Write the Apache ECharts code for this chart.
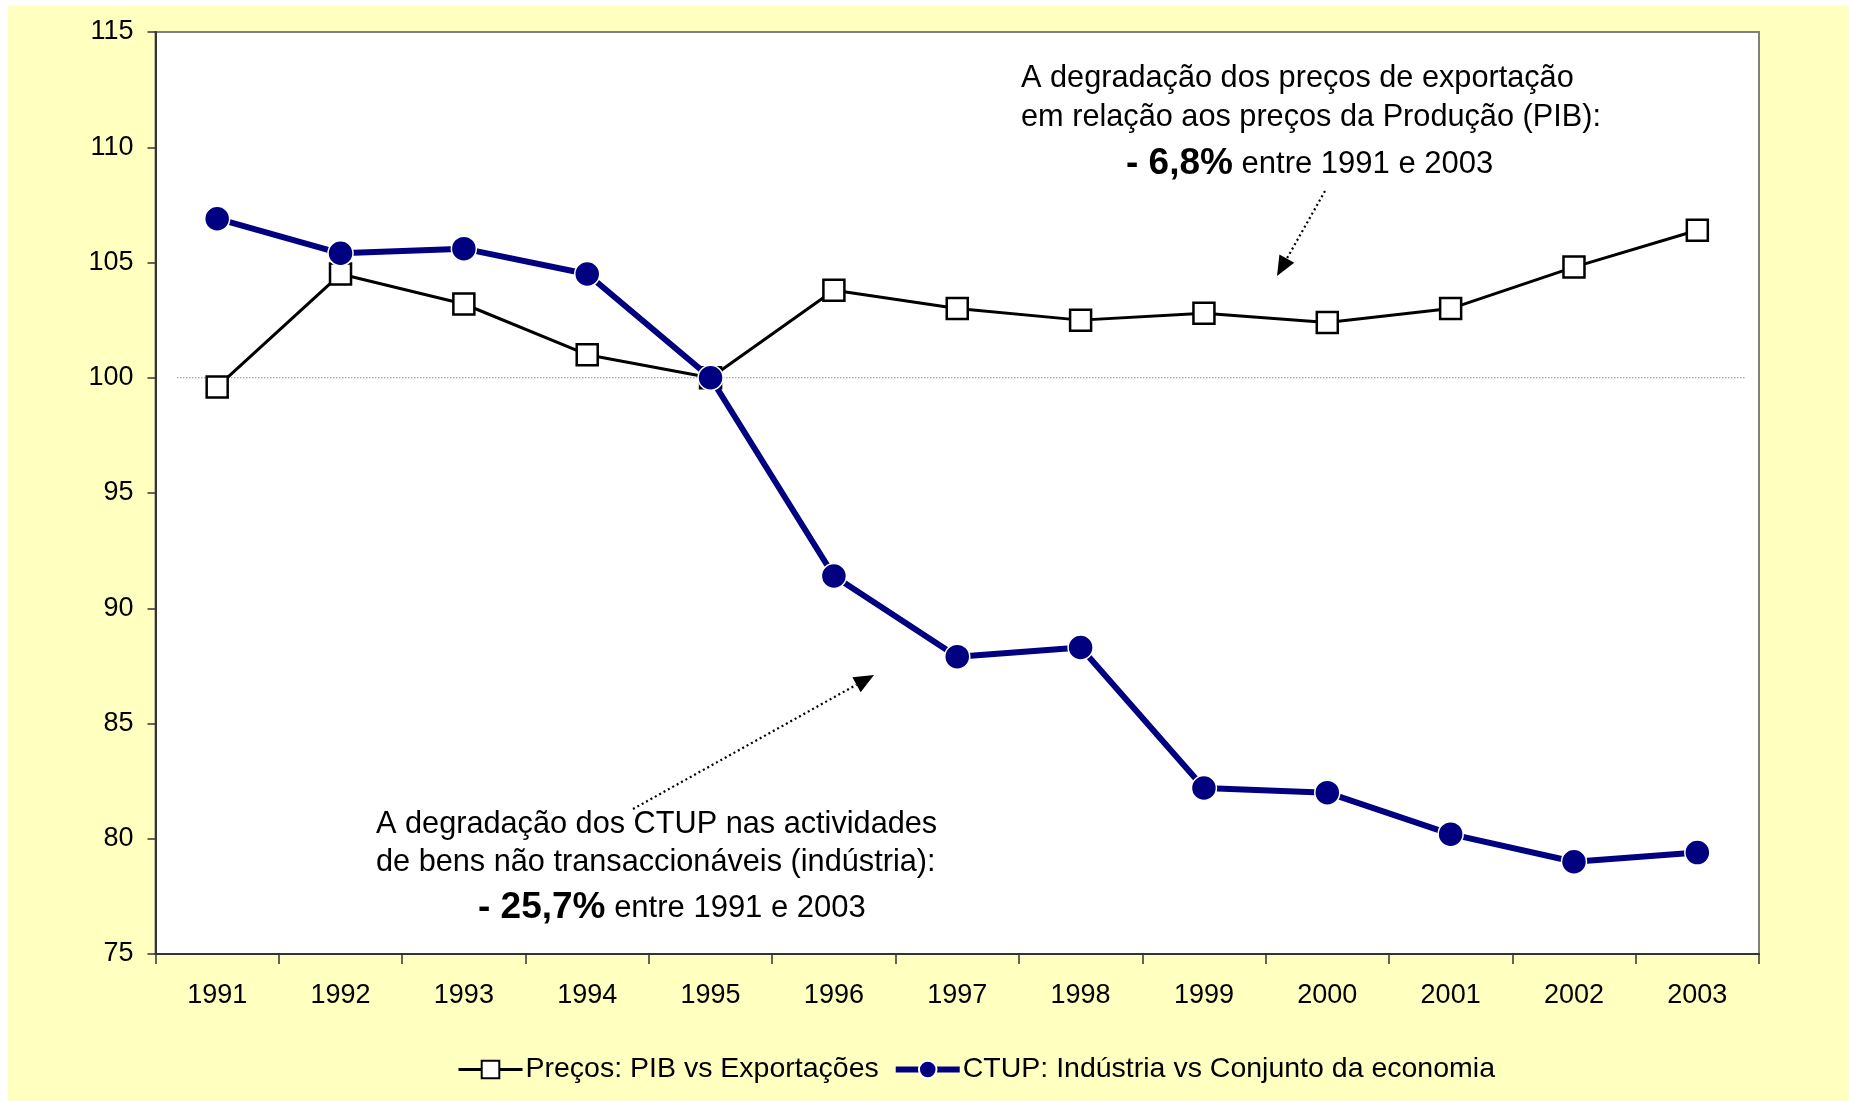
<!DOCTYPE html>
<html>
<head>
<meta charset="utf-8">
<title>Preços e CTUP 1991-2003</title>
<script src="https://cdn.jsdelivr.net/npm/echarts@6/dist/echarts.min.js"></script>
<style>
  html, body { margin: 0; padding: 0; background: #ffffff; }
  #chart {
    position: absolute;
    left: 8px;
    top: 6px;
    width: 1841px;
    height: 1095px;
  }
</style>
</head>
<body>
<div id="chart"></div>
<script>
// dados
const years = ['1991', '1992', '1993', '1994', '1995', '1996', '1997',
  '1998', '1999', '2000', '2001', '2002', '2003'];
const precosPibExport = [99.6, 104.5, 103.2, 101.0, 100.0, 103.8, 103.0,
  102.5, 102.8, 102.4, 103.0, 104.8, 106.4];
const ctupIndustria = [106.9, 105.4, 105.6, 104.5, 100.0, 91.4, 87.9,
  88.3, 82.2, 82.0, 80.2, 79.0, 79.4];
const seriesNames = ['Preços: PIB vs Exportações', 'CTUP: Indústria vs Conjunto da economia'];
const yMin = 75, yMax = 115, yStep = 5;
const baseLine = 100;

const FONT = "'Liberation Sans', Arial, sans-serif";

// seta pontilhada com ponta cheia
function arrow(x1, y1, x2, y2) {
  const ang = Math.atan2(y2 - y1, x2 - x1);
  const len = 20, half = 8.5;
  const bx = x2 - len * Math.cos(ang);
  const by = y2 - len * Math.sin(ang);
  return [
    {
      type: 'line',
      shape: { x1: x1, y1: y1, x2: bx, y2: by },
      style: { stroke: '#000', lineWidth: 2.2, lineDash: [2, 3] }
    },
    {
      type: 'polygon',
      shape: {
        points: [
          [x2, y2],
          [bx + half * Math.sin(ang), by - half * Math.cos(ang)],
          [bx - half * Math.sin(ang), by + half * Math.cos(ang)]
        ]
      },
      style: { fill: '#000' }
    }
  ];
}

function note(x, y, text) {
  return {
    type: 'text',
    style: {
      x: x, y: y, text: text,
      fill: '#000',
      font: '30.7px ' + FONT,
      textVerticalAlign: 'middle',
      rich: {
        b: { fontSize: 37, fontWeight: 'bold', fontFamily: FONT, fill: '#000' },
        n: { fontSize: 31, fontFamily: FONT, fill: '#000' }
      }
    }
  };
}

const chart = echarts.init(document.getElementById('chart'));

chart.setOption({
  backgroundColor: '#FFFFC0',
  animation: false,
  textStyle: { fontFamily: FONT, color: '#000' },
  grid: {
    left: 147.5,
    top: 26,
    right: 90,
    bottom: 147,
    show: true,
    backgroundColor: '#ffffff',
    borderColor: '#808080',
    borderWidth: 2
  },
  legend: {
    bottom: 12,
    left: 444,
    itemWidth: 64,
    itemHeight: 22,
    itemGap: 14,
    lineStyle: { width: 'inherit' },
    textStyle: { fontSize: 28.5, fontFamily: FONT, color: '#000', padding: [0, 0, 0, -2] },
    data: seriesNames
  },
  xAxis: {
    type: 'category',
    data: years,
    boundaryGap: true,
    axisLine: { show: true, lineStyle: { color: '#333', width: 2 } },
    axisTick: { show: true, interval: 0, length: 10, lineStyle: { color: '#333', width: 1.5 } },
    axisLabel: { fontSize: 27, color: '#000', margin: 28, interval: 0 },
    splitLine: { show: false }
  },
  yAxis: {
    type: 'value',
    min: yMin,
    max: yMax,
    interval: yStep,
    axisLine: { show: true, lineStyle: { color: '#333', width: 2 } },
    axisTick: { show: true, length: 8, lineStyle: { color: '#333', width: 1.5 } },
    axisLabel: { fontSize: 27, color: '#000', margin: 22 },
    splitLine: { show: false }
  },
  series: [
    {
      name: seriesNames[0],
      type: 'line',
      data: precosPibExport,
      symbol: 'rect',
      symbolSize: 21,
      z: 3,
      lineStyle: { color: '#000', width: 3 },
      itemStyle: { color: '#ffffff', borderColor: '#000', borderWidth: 2.5 }
    },
    {
      name: seriesNames[1],
      type: 'line',
      data: ctupIndustria,
      symbol: 'circle',
      symbolSize: 25,
      z: 4,
      lineStyle: { color: '#000080', width: 6 },
      itemStyle: { color: '#000080', borderColor: '#ffffff', borderWidth: 1.5 }
    }
  ]
});

// linha pontilhada de referência em 100, um pouco recolhida das margens da área
const yBase = chart.convertToPixel({ yAxisIndex: 0 }, baseLine);

chart.setOption({
  graphic: [
    {
      type: 'line',
      id: 'base100',
      silent: true,
      z: 1,
      shape: { x1: 169, y1: yBase, x2: 1737, y2: yBase },
      style: { stroke: '#8a8a8a', lineWidth: 1, lineDash: [1.5, 1.5] }
    },
    note(1013, 73, 'A degradação dos preços de exportação'),
    note(1013, 112, 'em relação aos preços da Produção (PIB):'),
    note(1118, 158, '{b|- 6,8%}{n| entre 1991 e 2003}'),
    note(368, 819, 'A degradação dos CTUP nas actividades'),
    note(368, 857, 'de bens não transaccionáveis (indústria):'),
    note(470, 902, '{b|- 25,7%}{n| entre 1991 e 2003}')
  ].concat(arrow(1317, 185, 1269, 270), arrow(625, 803, 866, 669))
});
</script>
</body>
</html>
